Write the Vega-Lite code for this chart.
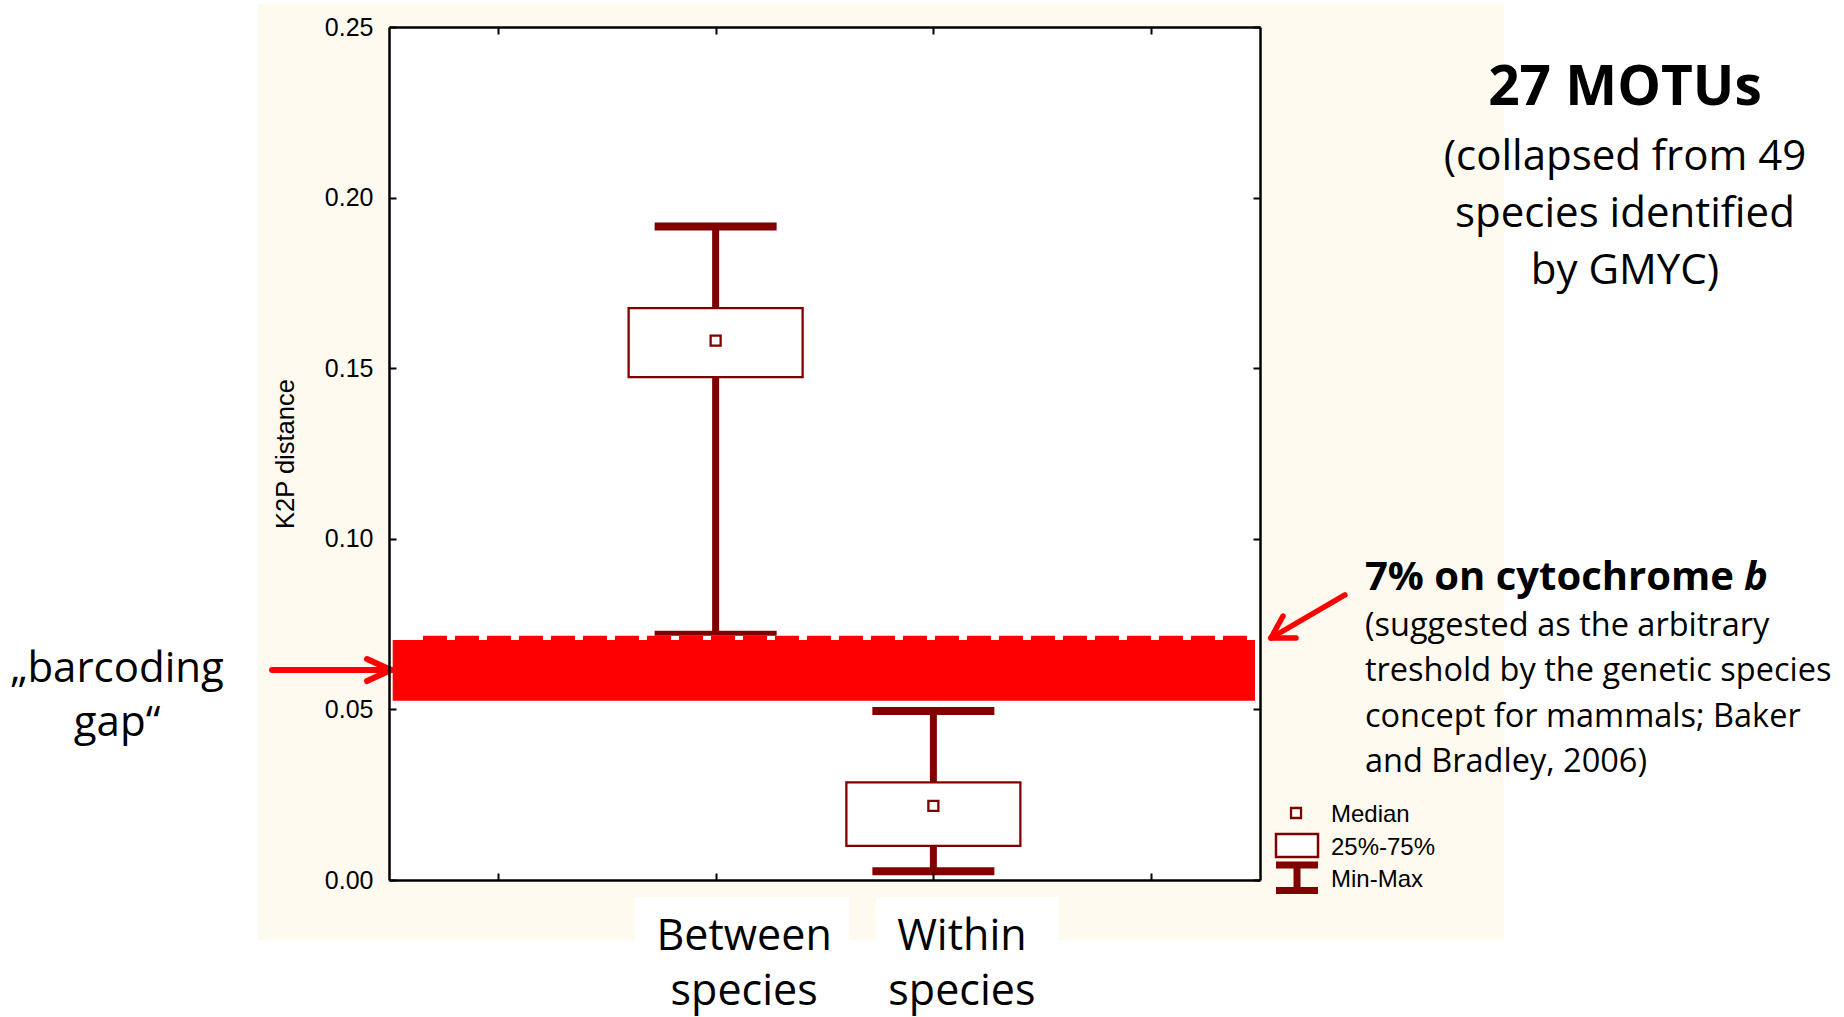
{
  "$schema": "https://vega.github.io/schema/vega-lite/v6.json",
  "usermeta": {"embedOptions": {"actions": false}},
  "width": 871,
  "height": 853,
  "autosize": {"type": "none"},
  "padding": {"left": 389, "top": 27, "right": 584, "bottom": 137},
  "background": "white",
  "config": {
    "view": {"stroke": null},
    "axis": {
      "domainColor": "black", "domainWidth": 2.5,
      "tickColor": "black", "tickWidth": 2, "tickSize": -7,
      "grid": false, "zindex": 1,
      "labelFont": "Liberation Sans", "labelFontSize": 25, "labelColor": "black",
      "titleFont": "Liberation Sans", "titleFontSize": 25.5, "titleFontWeight": "normal", "titleColor": "black"
    }
  },
  "datasets": {
    "stats": [
      {"group": "Between species", "idx": 1, "min": 0.0719, "q1": 0.1474, "median": 0.1581, "q3": 0.1676, "max": 0.1915},
      {"group": "Within species", "idx": 2, "min": 0.0026, "q1": 0.0100, "median": 0.0217, "q3": 0.0286, "max": 0.0495}
    ]
  },
  "resolve": {"axis": {"x": "independent", "y": "independent"}},
  "layer": [
    {
      "layer": [
        {
          "data": {"values": [{}]},
          "mark": {"type": "rect", "color": "#FFFAF0"},
          "encoding": {"x": {"datum": -1.102}, "x2": {"datum": 4.621}, "y": {"datum": -0.0176}, "y2": {"datum": 0.2567}}
        },
        {
          "data": {"values": [{}]},
          "mark": {"type": "rect", "color": "white"},
          "encoding": {"x": {"datum": -0.5}, "x2": {"datum": 3.5}, "y": {"datum": 0}, "y2": {"datum": 0.25}}
        },
        {
          "data": {"values": [{}]},
          "mark": {"type": "rect", "color": "white"},
          "encoding": {"x": {"datum": 0.63}, "x2": {"datum": 1.6125}, "y": {"datum": -0.005}, "y2": {"datum": -0.03}}
        },
        {
          "data": {"values": [{}]},
          "mark": {"type": "rect", "color": "white"},
          "encoding": {"x": {"datum": 1.7365}, "x2": {"datum": 2.577}, "y": {"datum": -0.005}, "y2": {"datum": -0.03}}
        },
        {
          "data": {"name": "stats"},
          "mark": {"type": "rule", "color": "#800000", "strokeWidth": 7},
          "encoding": {
            "x": {
              "field": "idx", "type": "quantitative",
              "scale": {"domain": [-0.5, 3.5], "nice": false, "zero": false, "padding": 0},
              "axis": {
                "values": [0, 1, 2, 3], "title": null, "zindex": 2,
                "labelExpr": "datum.value == 1 ? ['Between', 'species'] : datum.value == 2 ? ['Within', 'species'] : ''",
                "labelFont": "Open Sans", "labelFontSize": 43, "labelLineHeight": 55,
                "labelBaseline": "alphabetic", "labelPadding": 76, "labelOffset": 28,
                "labelOverlap": false, "labelFlush": false, "labelBound": false
              }
            },
            "y": {
              "field": "min", "type": "quantitative",
              "scale": {"domain": [0, 0.25], "nice": false, "zero": false, "padding": 0},
              "axis": {"values": [0, 0.05, 0.1, 0.15, 0.2, 0.25], "format": ".2f", "title": "K2P distance", "labelPadding": 23, "titlePadding": 26, "zindex": 2}
            },
            "y2": {"field": "max"}
          }
        },
        {
          "data": {"name": "stats"},
          "mark": {"type": "bar", "width": 174, "fill": "white", "stroke": "#800000", "strokeWidth": 2.3},
          "encoding": {
            "x": {"field": "idx", "type": "quantitative"},
            "y": {"field": "q1", "type": "quantitative"},
            "y2": {"field": "q3"}
          }
        },
        {
          "data": {"name": "stats"},
          "mark": {"type": "point", "shape": "square", "filled": true, "fill": "white", "stroke": "#800000", "strokeWidth": 2.3, "size": 100, "opacity": 1},
          "encoding": {
            "x": {"field": "idx", "type": "quantitative"},
            "y": {"field": "median", "type": "quantitative"}
          }
        },
        {
          "data": {"name": "stats"},
          "transform": [{"fold": ["min", "max"], "as": ["stat", "value"]}],
          "mark": {"type": "tick", "orient": "horizontal", "size": 122, "thickness": 8, "color": "#800000", "opacity": 1},
          "encoding": {
            "x": {"field": "idx", "type": "quantitative"},
            "y": {"field": "value", "type": "quantitative"}
          }
        },
        {
          "data": {"values": [{}]},
          "mark": {"type": "rect", "color": "#FF0000"},
          "encoding": {"x": {"datum": -0.483}, "x2": {"datum": 3.477}, "y": {"datum": 0.05255}, "y2": {"datum": 0.07034}}
        },
        {
          "data": {"values": [{}]},
          "mark": {"type": "rule", "color": "white", "strokeWidth": 4.3},
          "encoding": {"x": {"datum": -0.3439}, "x2": {"datum": 3.44}, "y": {"datum": 0.07097}}
        },
        {
          "data": {"values": [{}]},
          "mark": {"type": "rule", "color": "#FF0000", "strokeWidth": 4.3, "strokeDash": [24, 8]},
          "encoding": {"x": {"datum": -0.3439}, "x2": {"datum": 3.44}, "y": {"datum": 0.07097}}
        },
        {
          "data": {"values": [{}]},
          "mark": {"type": "rule", "color": "#FF0000", "strokeWidth": 6, "strokeCap": "round"},
          "encoding": {"x": {"datum": -1.037}, "x2": {"datum": -0.4908}, "y": {"datum": 0.06155}, "y2": {"datum": 0.06155}}
        },
        {
          "data": {"values": [{}]},
          "mark": {"type": "rule", "color": "#FF0000", "strokeWidth": 6, "strokeCap": "round"},
          "encoding": {"x": {"datum": -0.601}, "x2": {"datum": -0.4908}, "y": {"datum": 0.06477}, "y2": {"datum": 0.06155}}
        },
        {
          "data": {"values": [{}]},
          "mark": {"type": "rule", "color": "#FF0000", "strokeWidth": 6, "strokeCap": "round"},
          "encoding": {"x": {"datum": -0.601}, "x2": {"datum": -0.4908}, "y": {"datum": 0.05832}, "y2": {"datum": 0.06155}}
        },
        {
          "data": {"values": [{}]},
          "mark": {"type": "rule", "color": "#FF0000", "strokeWidth": 5.5, "strokeCap": "round"},
          "encoding": {"x": {"datum": 3.890}, "x2": {"datum": 3.5505}, "y": {"datum": 0.08353}, "y2": {"datum": 0.07093}}
        },
        {
          "data": {"values": [{}]},
          "mark": {"type": "rule", "color": "#FF0000", "strokeWidth": 5.5, "strokeCap": "round"},
          "encoding": {"x": {"datum": 3.6057}, "x2": {"datum": 3.5505}, "y": {"datum": 0.07737}, "y2": {"datum": 0.07093}}
        },
        {
          "data": {"values": [{}]},
          "mark": {"type": "rule", "color": "#FF0000", "strokeWidth": 5.5, "strokeCap": "round"},
          "encoding": {"x": {"datum": 3.6654}, "x2": {"datum": 3.5505}, "y": {"datum": 0.07093}, "y2": {"datum": 0.07093}}
        },
        {
          "data": {"values": [{}]},
          "mark": {"type": "point", "shape": "square", "filled": true, "fill": "white", "stroke": "#800000", "strokeWidth": 2.3, "size": 100, "opacity": 1},
          "encoding": {"x": {"datum": 3.6654}, "y": {"datum": 0.01964}}
        },
        {
          "data": {"values": [{}]},
          "mark": {"type": "rect", "fill": "white", "stroke": "#800000", "strokeWidth": 2.5},
          "encoding": {"x": {"datum": 3.5735}, "x2": {"datum": 3.7664}, "y": {"datum": 0.00674}, "y2": {"datum": 0.01348}}
        },
        {
          "data": {"values": [{}]},
          "mark": {"type": "rule", "color": "#800000", "strokeWidth": 7},
          "encoding": {"x": {"datum": 3.5735}, "x2": {"datum": 3.7664}, "y": {"datum": 0.0044}}
        },
        {
          "data": {"values": [{}]},
          "mark": {"type": "rule", "color": "#800000", "strokeWidth": 7},
          "encoding": {"x": {"datum": 3.5735}, "x2": {"datum": 3.7664}, "y": {"datum": -0.00308}}
        },
        {
          "data": {"values": [{}]},
          "mark": {"type": "rule", "color": "#800000", "strokeWidth": 7},
          "encoding": {"x": {"datum": 3.67}, "y": {"datum": 0.0044}, "y2": {"datum": -0.00308}}
        },
        {
          "data": {"values": [{}]},
          "mark": {"type": "text", "font": "Liberation Sans", "fontSize": 24, "align": "left", "baseline": "alphabetic", "color": "black"},
          "encoding": {"x": {"datum": 3.826}, "y": {"datum": 0.017}, "text": {"value": "Median"}}
        },
        {
          "data": {"values": [{}]},
          "mark": {"type": "text", "font": "Liberation Sans", "fontSize": 24, "align": "left", "baseline": "alphabetic", "color": "black"},
          "encoding": {"x": {"datum": 3.826}, "y": {"datum": 0.00733}, "text": {"value": "25%-75%"}}
        },
        {
          "data": {"values": [{}]},
          "mark": {"type": "text", "font": "Liberation Sans", "fontSize": 24, "align": "left", "baseline": "alphabetic", "color": "black"},
          "encoding": {"x": {"datum": 3.826}, "y": {"datum": -0.00196}, "text": {"value": "Min-Max"}}
        },
        {
          "data": {"values": [{}]},
          "mark": {"type": "text", "font": "Open Sans", "fontSize": 55, "fontWeight": "bold", "align": "center", "baseline": "alphabetic", "color": "black"},
          "encoding": {"x": {"datum": 5.176}, "y": {"datum": 0.22714}, "text": {"value": "27 MOTUs"}}
        },
        {
          "data": {"values": [{}]},
          "mark": {"type": "text", "font": "Open Sans", "fontSize": 42, "align": "center", "baseline": "alphabetic", "lineHeight": 57, "color": "black"},
          "encoding": {"x": {"datum": 5.176}, "y": {"datum": 0.20809}, "text": {"value": ["(collapsed from 49", "species identified", "by GMYC)"]}}
        },
        {
          "data": {"values": [{}]},
          "mark": {"type": "text", "font": "Open Sans", "fontSize": 40, "fontWeight": "bold", "align": "left", "baseline": "alphabetic", "color": "black"},
          "encoding": {"x": {"datum": 3.982}, "y": {"datum": 0.0849}, "text": {"value": "7% on cytochrome"}}
        },
        {
          "data": {"values": [{}]},
          "mark": {"type": "text", "font": "Open Sans", "fontSize": 40, "fontWeight": "bold", "fontStyle": "italic", "align": "left", "baseline": "alphabetic", "color": "black"},
          "encoding": {"x": {"datum": 5.723}, "y": {"datum": 0.0849}, "text": {"value": "b"}}
        },
        {
          "data": {"values": [{}]},
          "mark": {"type": "text", "font": "Open Sans", "fontSize": 32.5, "align": "left", "baseline": "alphabetic", "lineHeight": 45.3, "color": "black"},
          "encoding": {"x": {"datum": 3.982}, "y": {"datum": 0.0715}, "text": {"value": ["(suggested as the arbitrary", "treshold by the genetic species", "concept for mammals; Baker", "and Bradley, 2006)"]}}
        },
        {
          "data": {"values": [{}]},
          "mark": {"type": "text", "font": "Open Sans", "fontSize": 42, "align": "center", "baseline": "alphabetic", "lineHeight": 54, "color": "black"},
          "encoding": {"x": {"datum": -1.749}, "y": {"datum": 0.0579}, "text": {"value": ["„barcoding", "gap“"]}}
        }
      ]
    },
    {
      "data": {"name": "stats"},
      "mark": {"type": "point", "opacity": 0},
      "encoding": {
        "x": {"field": "idx", "type": "quantitative", "axis": {"orient": "top", "values": [0, 1, 2, 3], "labels": false, "title": null, "zindex": 2}},
        "y": {"field": "median", "type": "quantitative", "axis": {"orient": "right", "values": [0, 0.05, 0.1, 0.15, 0.2, 0.25], "labels": false, "title": null, "zindex": 2}}
      }
    }
  ]
}
